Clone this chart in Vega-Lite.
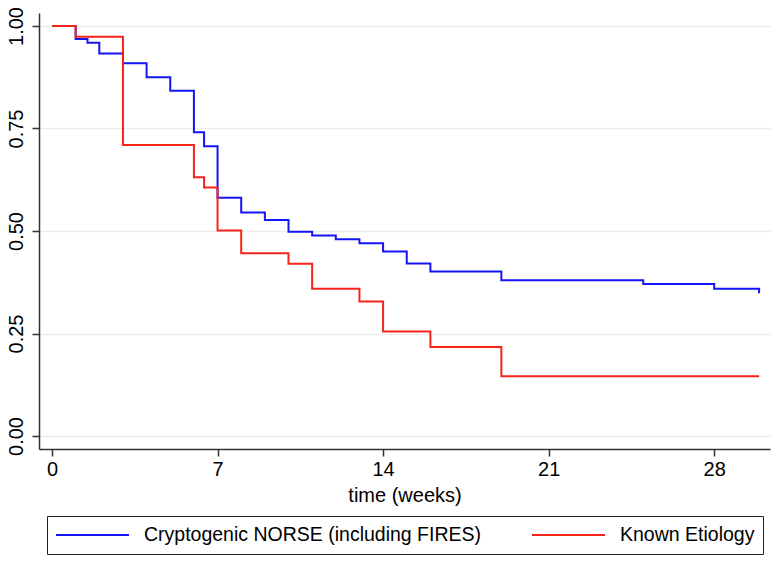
{
  "$schema": "https://vega.github.io/schema/vega-lite/v6.json",
  "width": 731,
  "height": 436,
  "autosize": {"type": "none"},
  "padding": {"left": 39, "top": 13, "right": 10, "bottom": 113},
  "background": "white",
  "data": {
    "values": [
      {"group": "Cryptogenic NORSE (including FIRES)", "t": 0, "s": 1},
      {"group": "Cryptogenic NORSE (including FIRES)", "t": 1, "s": 0.968},
      {"group": "Cryptogenic NORSE (including FIRES)", "t": 1.5, "s": 0.959},
      {"group": "Cryptogenic NORSE (including FIRES)", "t": 2, "s": 0.933},
      {"group": "Cryptogenic NORSE (including FIRES)", "t": 3, "s": 0.909},
      {"group": "Cryptogenic NORSE (including FIRES)", "t": 4, "s": 0.875},
      {"group": "Cryptogenic NORSE (including FIRES)", "t": 5, "s": 0.842},
      {"group": "Cryptogenic NORSE (including FIRES)", "t": 6, "s": 0.741},
      {"group": "Cryptogenic NORSE (including FIRES)", "t": 6.43, "s": 0.707},
      {"group": "Cryptogenic NORSE (including FIRES)", "t": 7, "s": 0.581},
      {"group": "Cryptogenic NORSE (including FIRES)", "t": 8, "s": 0.545},
      {"group": "Cryptogenic NORSE (including FIRES)", "t": 9, "s": 0.527},
      {"group": "Cryptogenic NORSE (including FIRES)", "t": 10, "s": 0.498},
      {"group": "Cryptogenic NORSE (including FIRES)", "t": 11, "s": 0.489},
      {"group": "Cryptogenic NORSE (including FIRES)", "t": 12, "s": 0.48},
      {"group": "Cryptogenic NORSE (including FIRES)", "t": 13, "s": 0.47},
      {"group": "Cryptogenic NORSE (including FIRES)", "t": 14, "s": 0.45},
      {"group": "Cryptogenic NORSE (including FIRES)", "t": 15, "s": 0.421},
      {"group": "Cryptogenic NORSE (including FIRES)", "t": 16, "s": 0.401},
      {"group": "Cryptogenic NORSE (including FIRES)", "t": 19, "s": 0.38},
      {"group": "Cryptogenic NORSE (including FIRES)", "t": 25, "s": 0.371},
      {"group": "Cryptogenic NORSE (including FIRES)", "t": 28, "s": 0.359},
      {"group": "Cryptogenic NORSE (including FIRES)", "t": 29.9, "s": 0.348},
      {"group": "Known Etiology", "t": 0, "s": 1},
      {"group": "Known Etiology", "t": 1, "s": 0.974},
      {"group": "Known Etiology", "t": 3, "s": 0.71},
      {"group": "Known Etiology", "t": 6, "s": 0.631},
      {"group": "Known Etiology", "t": 6.43, "s": 0.606},
      {"group": "Known Etiology", "t": 7, "s": 0.501},
      {"group": "Known Etiology", "t": 8, "s": 0.446},
      {"group": "Known Etiology", "t": 10, "s": 0.42},
      {"group": "Known Etiology", "t": 11, "s": 0.359},
      {"group": "Known Etiology", "t": 13, "s": 0.328},
      {"group": "Known Etiology", "t": 14, "s": 0.255},
      {"group": "Known Etiology", "t": 16, "s": 0.217},
      {"group": "Known Etiology", "t": 19, "s": 0.146},
      {"group": "Known Etiology", "t": 29.9, "s": 0.146}
    ]
  },
  "mark": {"type": "line", "interpolate": "step-after", "strokeWidth": 2},
  "encoding": {
    "x": {
      "field": "t",
      "type": "quantitative",
      "title": "time (weeks)",
      "scale": {"domain": [-0.55, 30.36], "nice": false, "zero": false},
      "axis": {"values": [0, 7, 14, 21, 28], "grid": false, "titlePadding": 6}
    },
    "y": {
      "field": "s",
      "type": "quantitative",
      "title": null,
      "scale": {"domain": [-0.0317, 1.0317], "nice": false, "zero": false},
      "axis": {
        "values": [0, 0.25, 0.5, 0.75, 1],
        "format": ".2f",
        "labelAngle": -90,
        "labelAlign": "center",
        "labelBaseline": "alphabetic",
        "labelPadding": 10,
        "grid": true
      }
    },
    "color": {
      "field": "group",
      "type": "nominal",
      "scale": {
        "domain": ["Cryptogenic NORSE (including FIRES)", "Known Etiology"],
        "range": ["#1414f5", "#f5231a"]
      },
      "legend": {
        "title": null,
        "orient": "none",
        "legendX": 8,
        "legendY": 503,
        "direction": "horizontal",
        "symbolType": "stroke",
        "symbolSize": 5329,
        "symbolStrokeWidth": 2,
        "clipHeight": 22,
        "labelOffset": 14,
        "columnPadding": 49,
        "padding": 8,
        "strokeColor": "#222222",
        "labelFontSize": 19.5,
        "labelFont": "Liberation Sans",
        "labelColor": "black",
        "labelLimit": 500
      }
    }
  },
  "config": {
    "view": {"stroke": null},
    "axis": {
      "labelFont": "Liberation Sans",
      "titleFont": "Liberation Sans",
      "labelFontSize": 20,
      "titleFontSize": 20,
      "titleFontWeight": "normal",
      "labelColor": "black",
      "titleColor": "black",
      "domainColor": "#333333",
      "domainWidth": 1.5,
      "tickColor": "#333333",
      "tickWidth": 1.5,
      "tickSize": 7,
      "gridColor": "#e6eef1",
      "gridWidth": 1.5,
      "labelPadding": 3
    }
  }
}
